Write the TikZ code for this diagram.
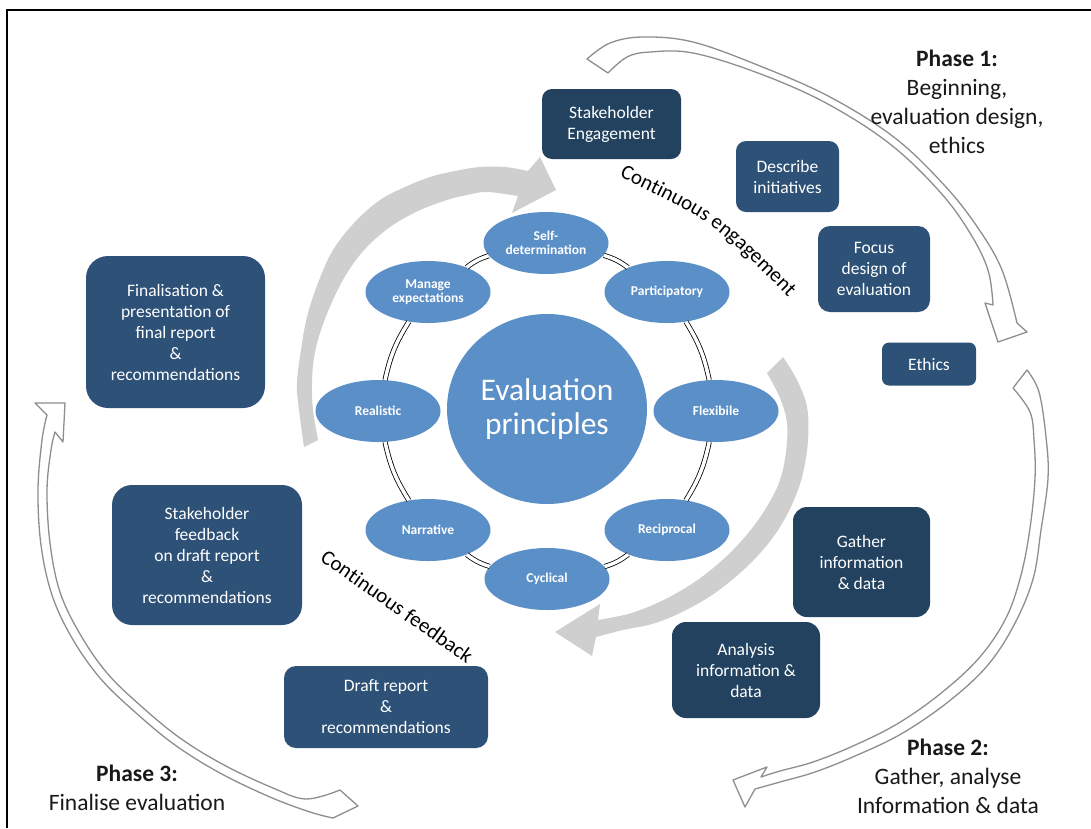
\documentclass[tikz,border=0pt]{standalone}
\usepackage{fontspec}
\setmainfont{Carlito}
\usetikzlibrary{shapes.geometric,decorations.text}
\definecolor{boxA}{HTML}{2D5177}
\definecolor{boxB}{HTML}{22425F}
\definecolor{ellblue}{HTML}{5B8FC7}
\definecolor{greyarrow}{HTML}{CFCFCF}
\definecolor{phaseline}{HTML}{8E8E8E}
\newcommand{\boxfont}{\fontsize{17.5}{21}\selectfont}
\newcommand{\ellfont}{\fontsize{13.5}{14.5}\selectfont\bfseries}
\newcommand{\phasefont}{\fontsize{23.5}{29}\selectfont}
\newcommand{\centerfont}{\fontsize{31.5}{34}\selectfont}
\newcommand{\curvfont}{\fontsize{21}{21}\selectfont}
\begin{document}
\begin{tikzpicture}[x=1pt,y=-1pt,
  darkbox/.style={fill=boxA, text=white, align=center, inner sep=0pt, font=\boxfont},
  principle/.style={ellipse, fill=ellblue, text=white, inner sep=0pt, align=center, minimum width=125pt, minimum height=62pt, font=\ellfont},
  dbl/.style={draw=black, line width=0.8pt, double=white, double distance=3.5pt},
  greyarr/.style={fill=greyarrow, draw=none},
  phasearr/.style={fill=white, draw=phaseline, line width=1.3pt, line join=round},
  phasetext/.style={align=center, font=\phasefont, text=black!90, inner sep=0pt}]
\useasboundingbox (0,0) rectangle (1091,828);
\fill[white] (0,0) rectangle (1091,828);
\draw[line width=2pt] (7,828) -- (7,10) -- (1091,10);

% grey inner arrows
\fill[greyarr] plot[smooth, tension=0.6] coordinates {(304,447) (299,410) (297,383) (301,350) (307,317) (318,283) (333,250) (355,222) (380,200) (405,187) (430,177) (455,171) (480,167) (505,167) (528,171)} -- (540,157) -- (556,190) -- (512,213) -- plot[smooth, tension=0.6] coordinates {(518,196) (487,192) (467,195) (447,200) (418,211) (390,227) (366,248) (347,273) (332,302) (320,333) (314,358) (312,383) (313,410) (318,440)} -- cycle;
\fill[greyarr] plot[smooth, tension=0.6] coordinates {(783,357) (797,380) (807,407) (808,440) (803,473) (794,500) (780,527) (762,551) (740,573) (712,595) (680,613) (652,624) (623,630) (596,637)} -- (592,656) -- (555,632) -- (600,604) -- plot[smooth, tension=0.6] coordinates {(598,620) (628,614) (655,604) (682,590) (707,573) (732,551) (753,527) (769,503) (780,480) (786,452) (787,423) (780,398) (767,373)} -- cycle;

% phase arrows
\filldraw[phasearr] plot[smooth, tension=0.6] coordinates {(587,59) (610,43) (643,37) (693,42) (760,66) (830,97) (895,138) (945,186) (978,228) (1002,270) (1017,323)} -- (1027,332) -- (998,342) -- (985,303) -- plot[smooth, tension=0.6] coordinates {(993,305) (988,270) (970,233) (940,192) (890,144) (826,103) (758,73) (693,53) (650,52) (627,57) (608,73)} -- cycle;
\filldraw[phasearr] plot[smooth, tension=0.6] coordinates {(1027,370) (1039,392) (1046,437) (1048,478) (1041,530) (1033,579) (1014,625) (987,666) (948,702) (901,734) (855,756) (815,772) (780,782) (755,789)} -- (745,807) -- (733,780) -- (767,767) -- plot[smooth, tension=0.6] coordinates {(761,777) (780,771) (813,762) (853,746) (897,724) (940,694) (979,658) (1006,618) (1021,575) (1030,528) (1035,478) (1034,440) (1030,412) (1013,388)} -- cycle;
\filldraw[phasearr] plot[smooth, tension=0.6] coordinates {(333,818) (310,812) (270,797) (220,773) (175,745) (135,712) (100,678) (72,638) (52,595) (41,545) (38,490) (42,440) (47,415)} -- (35,403) -- (65,403) -- (63,442) -- plot[smooth, tension=0.6] coordinates {(55,432) (51,450) (47,490) (50,543) (60,592) (80,634) (107,673) (141,706) (180,738) (224,765) (273,788) (306,799) (340,790)} -- (358,806) -- cycle;

% dark boxes
\node[darkbox, fill=boxB, rounded corners=10pt, minimum width=139pt, minimum height=70pt] (se) at (611.5,124) {Stakeholder\\Engagement};
\node[darkbox, rounded corners=10pt, minimum width=103pt, minimum height=71pt] (desc) at (787.5,176.5) {Describe\\initiatives};
\node[darkbox, rounded corners=12pt, minimum width=112pt, minimum height=86pt] (focus) at (874,269) {Focus\\design of\\evaluation};
\node[darkbox, rounded corners=7pt, minimum width=94pt, minimum height=43pt] (ethics) at (929,364) {Ethics};
\node[darkbox, fill=boxB, rounded corners=14pt, minimum width=137pt, minimum height=110pt] (gather) at (861.5,562) {Gather\\information\\\& data};
\node[darkbox, fill=boxB, rounded corners=14pt, minimum width=148pt, minimum height=96pt] (analysis) at (746,670) {Analysis\\information \&\\data};
\node[darkbox, rounded corners=12pt, minimum width=204pt, minimum height=82pt] (draft) at (386,707) {Draft report\\\&\\recommendations};
\node[darkbox, rounded corners=20pt, minimum width=190pt, minimum height=140pt] (shfb) at (207,555) {Stakeholder\\feedback\\on draft report\\\&\\recommendations};
\node[darkbox, rounded corners=22pt, minimum width=179pt, minimum height=152pt] (final) at (175.5,332) {Finalisation \&\\presentation of\\final report\\\&\\recommendations};

% principles
\node[principle] (selfd) at (546,243) {Self-\\determination};
\node[principle] (partic) at (667,292) {Participatory};
\node[principle] (flex) at (716,411) {Flexibile};
\node[principle] (recip) at (667,530) {Reciprocal};
\node[principle] (cycl) at (547,579) {Cyclical};
\node[principle] (narr) at (428,530) {Narrative};
\node[principle] (real) at (378,411) {Realistic};
\node[principle] (manage) at (428,292) {Manage\\expectations};
\node[principle, minimum width=200pt, minimum height=190pt, font=\centerfont] (core) at (547,409) {Evaluation\\principles};

\draw[dbl] (selfd) to[bend left=10] (partic);
\draw[dbl] (partic) to[bend left=10] (flex);
\draw[dbl] (flex) to[bend left=10] (recip);
\draw[dbl] (recip) to[bend left=10] (cycl);
\draw[dbl] (cycl) to[bend left=10] (narr);
\draw[dbl] (narr) to[bend left=10] (real);
\draw[dbl] (real) to[bend left=10] (manage);
\draw[dbl] (manage) to[bend left=10] (selfd);

% phase texts
\node[phasetext] (p1) at (957,102) {\textbf{Phase 1:}\\Beginning,\\evaluation design,\\ethics};
\node[phasetext] (p2) at (948,776) {\textbf{Phase 2:}\\Gather, analyse\\Information \& data};
\node[phasetext] (p3) at (137,788) {\textbf{Phase 3:}\\Finalise evaluation};

% curved labels
\path[decorate, decoration={text along path, text align=center, text={|\curvfont|Continuous engagement}}] (608,171) .. controls (714,222) .. (797,306);
\path[decorate, decoration={text along path, text align=center, text={|\curvfont|Continuous feedback}}] (308,552) -- (478,672);
\end{tikzpicture}
\end{document}
